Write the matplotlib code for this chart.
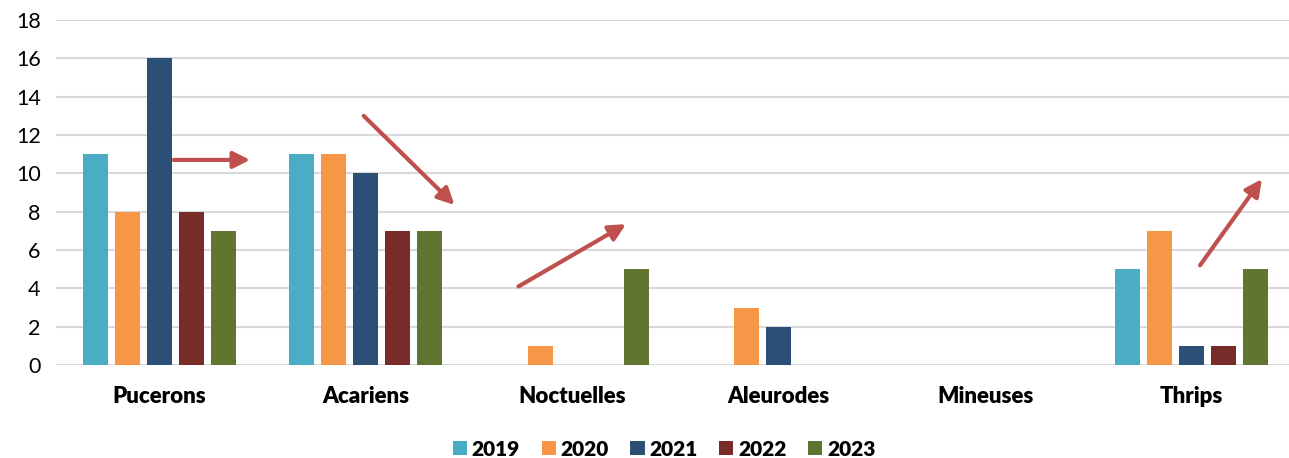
import matplotlib.pyplot as plt
import numpy as np

categories = ["Pucerons", "Acariens", "Noctuelles", "Aleurodes", "Mineuses", "Thrips"]
years = ["2019", "2020", "2021", "2022", "2023"]
counts = {
    "2019": [11, 11, 0, 0, 0, 5],
    "2020": [8, 11, 1, 3, 0, 7],
    "2021": [16, 10, 0, 2, 0, 1],
    "2022": [8, 7, 0, 0, 0, 1],
    "2023": [7, 7, 5, 0, 0, 5],
}
colors = ["#4BACC6", "#F79646", "#2C4F77", "#772C2A", "#5F7530"]

# trend arrows (start, end) in data coordinates
trends = [
    ((0.07, 10.7), (0.44, 10.7)),
    ((0.99, 13.0), (1.43, 8.35)),
    ((1.74, 4.1), (2.26, 7.35)),
    ((5.04, 5.2), (5.34, 9.7)),
]

plt.rcParams["font.family"] = ["Lato", "DejaVu Sans"]

fig = plt.figure(figsize=(12.89, 4.58), dpi=100)
ax = fig.add_axes([56 / 1289, 93 / 458, (1289 - 56) / 1289, 345 / 458])

x = np.arange(len(categories))
step = 0.155
width = 0.12
for i, (year, color) in enumerate(zip(years, colors)):
    ax.bar(x + (i - 2) * step, counts[year], width, color=color, label=year, zorder=3)

for start, end in trends:
    ax.annotate("", xy=end, xytext=start,
                arrowprops=dict(arrowstyle="-|>,head_length=1.0,head_width=0.5",
                                color="#C0504D", lw=3, shrinkA=0, shrinkB=0),
                zorder=4)

ax.set_xlim(-0.5, -0.5 + (1289 - 56) / 206.5)
ax.set_ylim(0, 18)
ax.set_yticks(range(0, 19, 2))
ax.set_xticks(x)
ax.set_xticklabels(categories, fontsize=16, fontweight="heavy")
ax.tick_params(axis="y", labelsize=15.5, length=0, pad=11)
ax.tick_params(axis="x", length=0, pad=15)
ax.grid(axis="y", color="#D9D9D9", linewidth=1.5, zorder=0)
for s in ax.spines.values():
    s.set_visible(False)

leg = fig.legend(loc="center", bbox_to_anchor=(664 / 1289, 1 - 449 / 458), ncol=5,
                 frameon=False, prop={"weight": "heavy", "size": 15},
                 handlelength=0.68, handleheight=0.68, handletextpad=0.22,
                 columnspacing=1.05)

fig.savefig("out.png", dpi=100)
